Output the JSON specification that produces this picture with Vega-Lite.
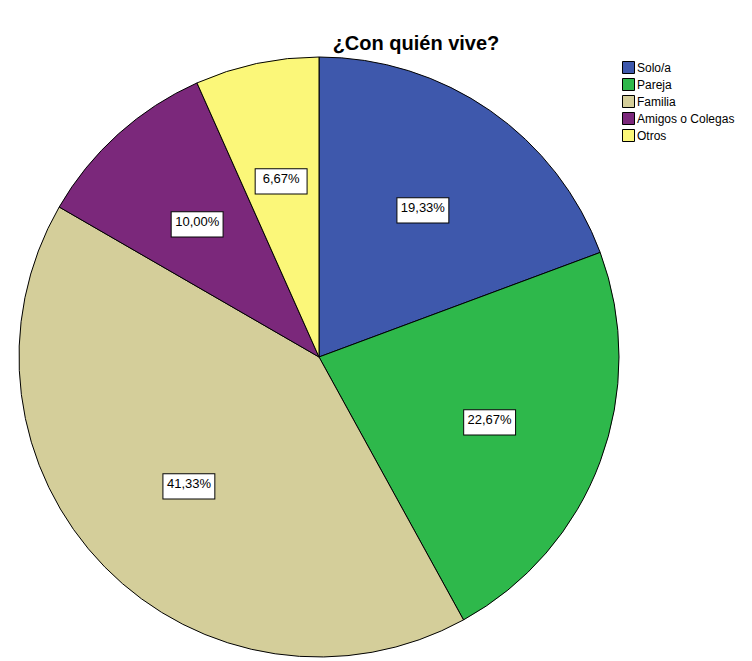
{
  "$schema": "https://vega.github.io/schema/vega-lite/v6.json",
  "autosize": "none",
  "width": 600,
  "height": 600,
  "padding": {"left": 19, "top": 57, "right": 133, "bottom": 4},
  "background": "white",
  "title": {
    "text": "¿Con quién vive?",
    "font": "Liberation Sans",
    "fontSize": 20,
    "fontWeight": "bold",
    "color": "#000000",
    "anchor": "middle",
    "dx": 97,
    "offset": 1
  },
  "data": {
    "values": [
      {"grupo": "Solo/a", "orden": 1, "n": 29, "pct": "19,33%"},
      {"grupo": "Pareja", "orden": 2, "n": 34, "pct": "22,67%"},
      {"grupo": "Familia", "orden": 3, "n": 62, "pct": "41,33%"},
      {"grupo": "Amigos o Colegas", "orden": 4, "n": 15, "pct": "10,00%"},
      {"grupo": "Otros", "orden": 5, "n": 10, "pct": "6,67%"}
    ]
  },
  "encoding": {
    "theta": {"field": "n", "type": "quantitative", "stack": true},
    "order": {"field": "orden", "type": "quantitative"}
  },
  "layer": [
    {
      "mark": {"type": "arc", "stroke": "#000000", "strokeWidth": 1},
      "encoding": {
        "color": {
          "field": "grupo",
          "type": "nominal",
          "sort": ["Solo/a", "Pareja", "Familia", "Amigos o Colegas", "Otros"],
          "scale": {
            "domain": ["Solo/a", "Pareja", "Familia", "Amigos o Colegas", "Otros"],
            "range": ["#3e58ac", "#2eb84b", "#d4ce9a", "#7b287b", "#fbf779"]
          },
          "legend": {
            "title": null,
            "orient": "none",
            "legendX": 603,
            "legendY": 4,
            "symbolType": "square",
            "symbolSize": 144,
            "symbolStrokeColor": "#000000",
            "symbolStrokeWidth": 1,
            "symbolOpacity": 1,
            "labelFont": "Liberation Sans",
            "labelFontSize": 12,
            "labelColor": "#000000",
            "rowPadding": 0,
            "labelOffset": 2
          }
        }
      }
    },
    {
      "mark": {"type": "text", "radius": 182, "text": "▬", "font": "DejaVu Sans", "fontSize": 68, "fill": "white", "stroke": "#000000", "strokeWidth": 1, "baseline": "middle", "align": "center"}
    },
    {
      "mark": {"type": "text", "radius": 182, "font": "Liberation Sans", "fontSize": 13, "color": "#000000", "baseline": "middle", "align": "center"},
      "encoding": {"text": {"field": "pct", "type": "nominal"}}
    }
  ]
}
